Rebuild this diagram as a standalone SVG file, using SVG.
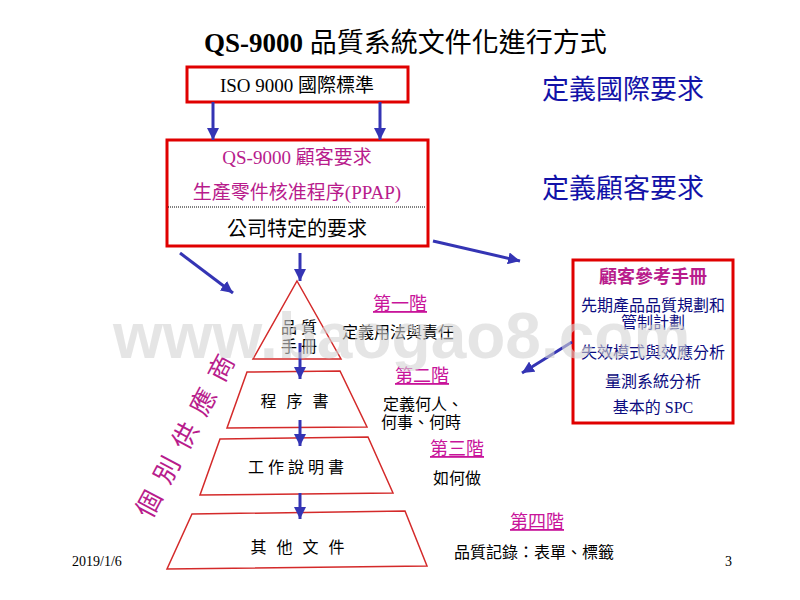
<svg xmlns="http://www.w3.org/2000/svg" width="800" height="600" viewBox="0 0 800 600">
<defs>
<marker id="ah" markerUnits="userSpaceOnUse" markerWidth="14" markerHeight="12" refX="12" refY="6" orient="auto">
<path d="M0,0 L12,6 L0,12 Z" fill="#3434b4"/>
</marker>
<style>
.cjk{font-family:"Liberation Serif","Noto Sans CJK TC",serif;}
.box{fill:none;stroke:#e00000;stroke-width:3;}
.lay{fill:#fff;stroke:#d42a2a;stroke-width:1.5;}
.arr{stroke:#3434b4;stroke-width:3;fill:none;marker-end:url(#ah);}
.mag{fill:#b81c8c;}
.stage{fill:#c8149a;font-size:18px;text-decoration:underline;}
.blk{fill:#000;}
.navy{fill:#0c0c80;}
.blue{fill:#1212a8;font-size:27px;}
</style>
</defs>
<rect width="800" height="600" fill="#fff"/>

<text class="cjk" x="204" y="52" font-size="27"><tspan font-weight="bold">QS-9000 </tspan><tspan>品質系統文件化進行方式</tspan></text>

<g id="iso">
<rect class="box" x="187" y="67" width="221" height="35"/>
<text class="cjk blk" x="297" y="92" font-size="19" text-anchor="middle">ISO 9000 國際標準</text>
</g>

<g id="customer">
<rect class="box" x="167" y="140" width="261" height="106"/>
<text class="cjk mag" x="297" y="164" font-size="19" text-anchor="middle">QS-9000 顧客要求</text>
<text class="cjk mag" x="297" y="199" font-size="19" text-anchor="middle">生產零件核准程序(PPAP)</text>
<line x1="168" y1="207" x2="426" y2="207" stroke="#000" stroke-width="1" stroke-dasharray="1,1"/>
<text class="cjk blk" x="297" y="236" font-size="20" text-anchor="middle">公司特定的要求</text>
</g>

<g id="def-intl"><text class="cjk blue" x="542" y="99">定義國際要求</text></g>
<g id="def-cust"><text class="cjk blue" x="542" y="198">定義顧客要求</text></g>

<g id="ref-manual">
<rect class="box" x="573" y="260" width="160" height="163"/>
<text class="cjk mag" x="653" y="283" font-size="18" text-anchor="middle" font-weight="bold">顧客參考手冊</text>
<text class="cjk navy" x="653" y="311" font-size="16" text-anchor="middle">先期產品品質規劃和</text>
<text class="cjk navy" x="653" y="328" font-size="16" text-anchor="middle">管制計劃</text>
<text class="cjk navy" x="653" y="358" font-size="16" text-anchor="middle">失效模式與效應分析</text>
<text class="cjk navy" x="653" y="387" font-size="16" text-anchor="middle">量測系統分析</text>
<text class="cjk navy" x="653" y="413" font-size="16" text-anchor="middle">基本的 SPC</text>
</g>

<g id="layer1">
<path class="lay" d="M297,281 L341,359 L253,359 Z"/>
<text class="cjk blk" x="299" y="333" font-size="16" text-anchor="middle">品 質</text>
<text class="cjk blk" x="299" y="352" font-size="16" text-anchor="middle">手 冊</text>
</g>
<g id="layer2">
<path class="lay" d="M247,372 L340,371 L367,427 L227,428 Z"/>
<text class="cjk blk" x="296" y="407" font-size="16" text-anchor="middle" letter-spacing="3">程 序 書</text>
</g>
<g id="layer3">
<path class="lay" d="M220,439 L368,437 L393,493 L200,495 Z"/>
<text class="cjk blk" x="296" y="473" font-size="16" text-anchor="middle">工 作 說 明 書</text>
</g>
<g id="layer4">
<path class="lay" d="M192,514 L405,511 L427,566 L167,569 Z"/>
<text class="cjk blk" x="299" y="553" font-size="16" text-anchor="middle" letter-spacing="3">其 他 文 件</text>
</g>

<g id="stage1">
<text class="cjk stage" x="400" y="310" text-anchor="middle">第一階</text>
<text class="cjk blk" x="398" y="338" font-size="16" text-anchor="middle">定義用法與責任</text>
</g>
<g id="stage2">
<text class="cjk stage" x="422" y="382" text-anchor="middle">第二階</text>
<text class="cjk blk" x="423" y="410" font-size="16" text-anchor="middle">定義何人、</text>
<text class="cjk blk" x="421" y="428" font-size="16" text-anchor="middle">何事、何時</text>
</g>
<g id="stage3">
<text class="cjk stage" x="457" y="455" text-anchor="middle">第三階</text>
<text class="cjk blk" x="457" y="484" font-size="16" text-anchor="middle">如何做</text>
</g>
<g id="stage4">
<text class="cjk stage" x="537" y="528" text-anchor="middle">第四階</text>
<text class="cjk blk" x="534" y="558" font-size="16" text-anchor="middle">品質記錄：表單、標籤</text>
</g>

<g id="suppliers">
<text class="cjk mag" transform="translate(194,439) rotate(-62)" font-size="26" text-anchor="middle" letter-spacing="3">個 別 供 應 商</text>
</g>

<g id="connectors">
<line class="arr" x1="213" y1="102" x2="213" y2="140"/>
<line class="arr" x1="380" y1="102" x2="380" y2="140"/>
<line class="arr" x1="180" y1="253" x2="233" y2="293"/>
<line class="arr" x1="300" y1="253" x2="300" y2="281"/>
<line class="arr" x1="433" y1="241" x2="520" y2="261"/>
<line class="arr" x1="572" y1="342" x2="522" y2="373"/>
<line class="arr" x1="300" y1="343" x2="300" y2="379"/>
<line class="arr" x1="300" y1="420" x2="300" y2="446"/>
<line class="arr" x1="300" y1="493" x2="300" y2="519"/>
</g>

<text x="72" y="566" font-family="Liberation Serif, serif" font-size="14">2019/1/6</text>
<text x="725" y="566" font-family="Liberation Serif, serif" font-size="14">3</text>

<text x="113" y="358" font-family="Liberation Sans, Arial, sans-serif" font-weight="bold" font-size="64" fill="#d4d4d4" fill-opacity="0.6">www.baogao8.com</text>
</svg>
